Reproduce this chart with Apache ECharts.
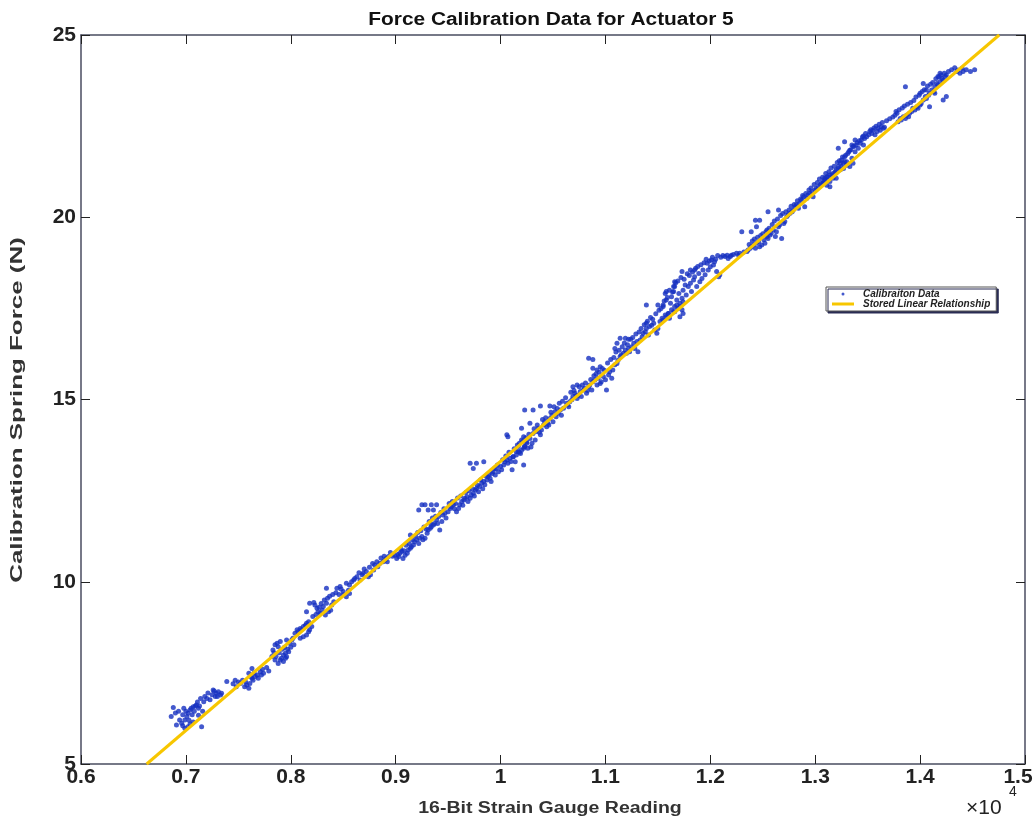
<!DOCTYPE html>
<html>
<head>
<meta charset="utf-8">
<script src="https://cdn.jsdelivr.net/npm/echarts@6/dist/echarts.min.js"></script>
<style>
html,body{margin:0;padding:0;background:#fff;}
#chart{width:1033px;height:825px;}
</style>
</head>
<body>
<div id="chart"></div>
<script>
// ---- data (x in units of 10^4 counts, F in N) ----
var xTicks = [0.6, 0.7, 0.8, 0.9, 1.0, 1.1, 1.2, 1.3, 1.4, 1.5];
var yTicks = [5, 10, 15, 20, 25];
var fitLineX = [0.6626, 1.4754];
var fitLineF = [5, 25];

var calibSeg1 = [[0.688,6.55],[0.686,6.30],[0.698,6.53],[0.691,6.07],[0.694,6.21],[0.696,6.12],[0.699,6.21],[0.701,6.30],[0.702,6.39],[0.704,6.48],[0.705,6.53],[0.707,6.57],[0.709,6.59],[0.710,6.62],[0.712,6.53],[0.713,6.59],[0.715,6.02],[0.712,6.34],[0.699,5.98],[0.702,6.02],[0.723,6.76],[0.726,7.03],[0.728,6.85],[0.729,6.94],[0.731,6.98],[0.733,6.89],[0.734,6.94],[0.720,6.80],[0.717,6.71],[0.739,7.26],[0.747,7.30],[0.748,7.12],[0.752,7.21],[0.756,7.12],[0.758,7.17],[0.760,7.08],[0.761,7.21],[0.763,7.35],[0.764,7.30],[0.766,7.40],[0.768,7.44],[0.771,7.53],[0.772,7.44],[0.774,7.49],[0.763,7.62],[0.760,7.49],[0.783,8.13],[0.785,8.27],[0.787,8.31],[0.788,8.22],[0.785,7.85],[0.788,7.76],[0.790,7.85],[0.791,7.90],[0.793,7.99],[0.795,8.04],[0.796,7.94],[0.798,8.08],[0.793,7.81],[0.795,7.90],[0.790,8.36],[0.796,8.40],[0.799,8.31],[0.803,8.27],[0.804,8.59],[0.806,8.68],[0.807,8.63],[0.809,8.72],[0.810,8.68],[0.812,8.77],[0.814,8.81],[0.815,8.86],[0.817,8.90],[0.809,8.45],[0.812,8.49],[0.815,8.54],[0.817,8.63],[0.818,8.68],[0.820,8.77],[0.815,9.18],[0.818,9.41],[0.822,9.43],[0.823,9.36],[0.825,9.27],[0.826,9.18],[0.828,9.13],[0.830,9.22],[0.831,9.32],[0.833,9.09],[0.834,9.41],[0.836,9.18],[0.838,9.22],[0.839,9.36],[0.841,9.45],[0.834,9.82],
[0.690,6.40],[0.693,6.45],[0.697,6.35],[0.700,6.45],[0.703,6.20],[0.706,6.35],[0.708,6.45],[0.711,6.70],[0.714,6.80],[0.718,6.85],[0.721,6.95],[0.725,6.90],[0.727,7.00],[0.730,6.85],[0.704,6.10],[0.707,6.15],[0.697,6.05],[0.716,6.45],[0.745,7.20],[0.750,7.25],[0.754,7.30],[0.757,7.25],[0.762,7.40],[0.765,7.50],[0.769,7.35],[0.773,7.60],[0.777,7.65],[0.779,7.55],[0.782,7.95],[0.784,8.05],[0.786,7.95],[0.789,8.05],[0.792,8.15],[0.794,8.20],[0.797,8.15],[0.800,8.20],[0.801,8.40],[0.802,8.45],[0.821,9.05],[0.824,9.10],[0.827,9.30],[0.829,9.40],[0.832,9.50],[0.835,9.55],[0.837,9.60],[0.840,9.65],[0.843,9.70],[0.846,9.65],[0.848,9.80]];

var calibSeg2 = [[0.844,9.82],[0.847,9.87],[0.850,9.73],[0.853,9.96],[0.855,9.77],[0.856,9.91],[0.858,10.00],[0.860,10.05],[0.861,10.09],[0.863,10.14],[0.866,10.05],[0.868,10.19],[0.869,10.23],[0.872,10.28],[0.874,10.14],[0.876,10.19],[0.879,10.32],[0.880,10.46],[0.883,10.41],[0.885,10.51],[0.888,10.55],[0.890,10.60],[0.891,10.64],[0.893,10.69],[0.850,9.64],[0.853,9.59],[0.856,9.68],[0.899,10.73],[0.901,10.64],[0.903,10.69],[0.904,10.78],[0.906,10.83],[0.907,10.64],[0.909,10.73],[0.911,10.78],[0.912,10.87],[0.914,10.92],[0.915,10.96],[0.917,11.01],[0.918,11.10],[0.920,11.15],[0.922,11.05],[0.923,11.19],[0.925,11.24],[0.926,11.15],[0.928,11.19],[0.914,11.28],[0.930,11.33],[0.931,11.42],[0.933,11.47],[0.934,11.51],[0.933,11.60],[0.936,11.56],[0.937,11.60],[0.939,11.70],[0.941,11.79],[0.942,11.42],[0.944,11.65],[0.945,11.83],[0.947,11.88],[0.922,11.97],[0.925,12.11],[0.928,12.11],[0.931,11.97],[0.934,12.11],[0.936,11.97],[0.939,12.11],[0.950,11.92],[0.952,12.01],[0.953,12.06],[0.955,12.11],[0.957,12.15],[0.958,11.92],[0.960,12.01],[0.961,12.11],[0.963,12.20],[0.965,12.24],[0.966,12.29],[0.968,12.33],[0.969,12.20],[0.971,12.29],[0.972,12.38],[0.974,12.43],[0.976,12.52],[0.977,12.56],[0.979,12.47],[0.980,12.61],[0.982,12.70],[0.984,12.75],[0.985,12.66],[0.987,12.79],[0.988,12.88],[0.990,12.84],[0.992,12.97],[0.993,13.02],[0.995,12.93],[0.996,13.11],[0.998,13.02],[1.000,13.16],[1.001,13.07],[1.003,13.20],[1.004,13.29],[1.006,13.34],[1.007,13.25],[1.009,13.39],[1.011,13.07],[1.012,13.43],[1.014,13.29],[1.015,13.48],[1.017,13.57],[1.019,13.52],[1.020,13.61],[1.022,13.66],[1.023,13.71],[1.025,13.80],[0.971,13.25],[0.977,13.25],[0.984,13.29],[0.974,13.11],[1.022,13.20],
[0.865,10.25],[0.870,10.35],[0.875,10.40],[0.878,10.50],[0.882,10.55],[0.886,10.65],[0.889,10.70],[0.892,10.55],[0.895,10.80],[0.897,10.70],[0.902,10.75],[0.905,10.90],[0.908,10.85],[0.910,11.00],[0.913,11.05],[0.916,11.15],[0.919,11.25],[0.921,11.35],[0.924,11.40],[0.927,11.50],[0.929,11.45],[0.932,11.65],[0.935,11.75],[0.938,11.80],[0.940,11.60],[0.943,11.90],[0.946,12.00],[0.948,11.75],[0.951,12.15],[0.954,12.20],[0.956,12.00],[0.959,12.30],[0.962,12.35],[0.964,12.10],[0.967,12.45],[0.970,12.50],[0.973,12.55],[0.975,12.35],[0.978,12.65],[0.981,12.80],[0.983,12.55],[0.986,12.90],[0.989,12.95],[0.991,12.75],[0.994,13.10],[0.997,13.20]];

var calibSeg3 = [[1.006,14.03],[1.007,13.98],[1.012,13.43],[1.015,13.57],[1.017,13.71],[1.018,13.80],[1.020,13.89],[1.022,13.98],[1.023,13.71],[1.025,13.84],[1.026,13.66],[1.028,13.93],[1.030,13.80],[1.031,14.07],[1.033,13.89],[1.034,14.12],[1.036,14.21],[1.038,14.03],[1.039,14.16],[1.041,14.30],[1.042,14.39],[1.044,14.25],[1.045,14.35],[1.047,14.48],[1.049,14.57],[1.050,14.39],[1.052,14.67],[1.053,14.53],[1.055,14.62],[1.057,14.71],[1.058,14.57],[1.060,14.76],[1.023,14.71],[1.031,14.71],[1.038,14.82],[1.047,14.82],[1.020,14.21],[1.028,14.35],[1.063,14.90],[1.065,14.80],[1.066,14.94],[1.068,14.99],[1.069,15.08],[1.071,15.17],[1.073,15.03],[1.074,15.12],[1.076,15.22],[1.077,15.08],[1.079,15.26],[1.080,15.31],[1.082,15.17],[1.084,15.35],[1.085,15.40],[1.087,15.26],[1.088,15.49],[1.090,15.54],[1.092,15.40],[1.093,15.58],[1.095,15.44],[1.096,15.49],[1.098,15.63],[1.100,15.54],[1.101,15.26],[1.103,15.67],[1.104,15.76],[1.106,15.58],[1.107,15.81],[1.109,15.95],[1.069,15.35],[1.073,15.40],[1.084,16.13],[1.088,16.10],[1.088,15.86],[1.092,15.81],[1.095,15.90],[1.111,15.99],[1.112,16.08],[1.114,16.18],[1.115,16.22],[1.117,16.27],[1.119,16.36],[1.120,16.27],[1.122,16.40],[1.123,16.31],[1.125,16.45],[1.127,16.54],[1.128,16.40],[1.130,16.59],[1.131,16.31],[1.133,16.63],[1.135,16.72],[1.136,16.82],[1.138,16.86],[1.139,16.95],[1.141,16.77],[1.142,17.00],[1.144,17.04],[1.146,17.09],[1.147,16.91],[1.149,16.82],[1.150,16.95],[1.152,17.14],[1.154,17.23],[1.155,17.18],[1.157,17.32],[1.158,17.27],[1.160,17.36],[1.161,17.23],[1.163,17.46],[1.165,17.41],[1.166,17.55],[1.168,17.59],[1.169,17.50],[1.171,17.64],[1.173,17.46],[1.174,17.68],[1.111,16.54],[1.114,16.68],[1.119,16.68],[1.122,16.65],[1.109,16.40],[1.139,17.09],[1.139,17.59],[1.150,17.59],[1.155,17.59],
[1.002,13.35],[1.005,13.45],[1.008,13.55],[1.010,13.30],[1.013,13.65],[1.016,13.75],[1.018,13.55],[1.021,13.85],[1.024,13.95],[1.027,14.05],[1.029,13.70],[1.032,14.20],[1.035,14.30],[1.037,14.10],[1.040,14.45],[1.043,14.50],[1.046,14.30],[1.048,14.65],[1.051,14.80],[1.054,14.75],[1.056,14.90],[1.059,14.95],[1.062,15.05],[1.064,14.85],[1.067,15.20],[1.070,15.25],[1.072,15.10],[1.075,15.35],[1.078,15.40],[1.081,15.45],[1.083,15.25],[1.086,15.55],[1.089,15.65],[1.091,15.70],[1.094,15.75],[1.097,15.85],[1.099,15.80],[1.102,16.00],[1.105,16.10],[1.108,16.15],[1.110,16.30],[1.113,16.35],[1.116,16.45],[1.118,16.55],[1.121,16.50],[1.124,16.65],[1.126,16.70],[1.129,16.80],[1.132,16.85],[1.134,16.95],[1.137,17.05],[1.140,17.15],[1.143,17.25],[1.145,17.20],[1.148,17.35]];

var calibSeg4 = [[1.155,17.55],[1.157,17.91],[1.158,17.73],[1.160,17.36],[1.162,17.64],[1.163,17.82],[1.165,17.96],[1.166,18.10],[1.168,17.73],[1.170,17.91],[1.171,17.55],[1.173,17.78],[1.174,18.00],[1.176,18.14],[1.177,17.87],[1.179,18.10],[1.181,18.19],[1.182,17.96],[1.184,18.28],[1.185,18.37],[1.187,18.10],[1.189,18.46],[1.190,18.23],[1.192,18.32],[1.193,18.55],[1.195,18.42],[1.197,18.74],[1.198,18.55],[1.200,18.64],[1.201,18.83],[1.203,18.69],[1.204,18.78],[1.206,18.51],[1.208,18.37],[1.209,18.42],[1.171,17.27],[1.174,17.36],[1.166,17.41],[1.173,18.51],[1.181,18.55],[1.185,18.55],[1.166,18.23],[1.158,17.96],[1.165,18.10],[1.214,18.92],[1.216,18.96],[1.217,18.87],[1.219,18.92],[1.220,18.96],[1.225,19.01],[1.228,19.01],[1.230,19.60],[1.235,19.06],[1.236,19.10],[1.238,19.15],[1.239,19.19],[1.241,19.24],[1.243,19.15],[1.244,19.29],[1.246,19.33],[1.247,19.19],[1.249,19.24],[1.251,19.38],[1.252,19.29],[1.254,19.47],[1.255,19.42],[1.257,19.51],[1.258,19.56],[1.260,19.65],[1.262,19.47],[1.263,19.60],[1.265,19.74],[1.266,19.79],[1.268,19.42],[1.270,19.83],[1.271,19.88],[1.273,20.02],[1.239,19.60],[1.244,19.74],[1.243,19.92],[1.247,19.92],[1.255,20.15],[1.265,20.20],[1.254,19.65],[1.274,20.06],[1.276,20.11],[1.278,20.15],[1.279,20.20],[1.281,20.29],[1.282,20.34],[1.284,20.25],[1.285,20.38],[1.287,20.47],[1.289,20.56],[1.290,20.29],[1.292,20.52],[1.293,20.61],[1.295,20.66],[1.297,20.70],[1.298,20.56],[1.300,20.75],[1.301,20.79],[1.303,20.84],[1.305,20.89],[1.306,20.93],[1.308,20.98],[1.309,21.07],[1.311,21.11],[1.312,21.02],[1.314,21.16],[1.316,21.11],[1.317,21.20],[1.319,21.25],[1.320,21.07],[1.322,21.34],[1.324,21.30],[1.325,21.39],[1.327,21.48],[1.328,21.53],[1.330,21.43],[1.333,21.39],[1.336,21.48],
[1.151,17.45],[1.153,17.50],[1.156,17.70],[1.159,17.80],[1.161,18.00],[1.164,17.95],[1.167,18.20],[1.169,18.25],[1.172,18.35],[1.175,18.30],[1.178,18.45],[1.180,18.40],[1.183,18.50],[1.186,18.60],[1.188,18.65],[1.191,18.70],[1.194,18.75],[1.196,18.85],[1.199,18.80],[1.202,18.90],[1.205,18.85],[1.207,18.95],[1.210,18.90],[1.212,18.95],[1.222,18.98],[1.227,18.95],[1.232,19.05],[1.237,19.25],[1.240,19.35],[1.242,19.40],[1.245,19.45],[1.248,19.50],[1.250,19.55],[1.253,19.60],[1.256,19.70],[1.259,19.80],[1.261,19.90],[1.264,19.95],[1.267,20.05],[1.269,20.10],[1.272,20.15],[1.275,20.20],[1.277,20.30],[1.280,20.35],[1.283,20.45],[1.286,20.50],[1.288,20.60],[1.291,20.65],[1.294,20.75],[1.296,20.80],[1.299,20.90]];

var calibSeg5 = [[1.308,20.93],[1.309,21.02],[1.311,20.88],[1.312,21.11],[1.314,20.98],[1.316,21.16],[1.317,21.07],[1.319,21.20],[1.314,20.84],[1.320,21.30],[1.322,21.39],[1.324,21.48],[1.325,21.57],[1.327,21.34],[1.328,21.66],[1.330,21.52],[1.331,21.75],[1.333,21.84],[1.335,21.62],[1.336,21.94],[1.338,21.80],[1.339,21.98],[1.341,21.89],[1.343,22.03],[1.344,22.12],[1.346,21.98],[1.347,22.16],[1.349,22.21],[1.351,22.26],[1.352,22.35],[1.354,22.30],[1.355,22.39],[1.357,22.26],[1.359,22.35],[1.360,22.44],[1.362,22.39],[1.363,22.48],[1.365,22.44],[1.366,22.47],[1.322,21.89],[1.328,22.07],[1.335,21.98],[1.346,22.23],[1.338,22.12],[1.376,22.80],[1.378,22.85],[1.379,22.62],[1.381,22.71],[1.382,22.67],[1.384,22.76],[1.386,22.71],[1.387,22.80],[1.389,22.76],[1.390,22.85],[1.392,22.90],[1.393,22.99],[1.395,22.94],[1.397,23.03],[1.398,22.99],[1.400,23.08],[1.401,23.12],[1.403,23.22],[1.405,23.31],[1.406,23.26],[1.408,23.35],[1.409,23.40],[1.411,23.49],[1.413,23.44],[1.414,23.58],[1.416,23.67],[1.417,23.63],[1.419,23.72],[1.421,23.81],[1.422,23.76],[1.424,23.86],[1.425,23.90],[1.417,23.86],[1.419,23.95],[1.386,23.58],[1.403,23.67],[1.406,23.49],[1.400,23.40],[1.409,23.03],[1.425,23.31],[1.422,23.22],[1.414,23.40],[1.435,24.00],[1.436,24.04],[1.438,23.95],[1.440,24.09],[1.441,24.00],[1.448,24.00],
[1.302,20.95],[1.304,21.05],[1.307,21.10],[1.310,21.20],[1.313,21.25],[1.315,21.35],[1.318,21.40],[1.321,21.50],[1.323,21.55],[1.326,21.65],[1.329,21.70],[1.332,21.80],[1.334,21.85],[1.337,21.95],[1.340,22.05],[1.342,22.10],[1.345,22.20],[1.348,22.30],[1.353,22.40],[1.356,22.45],[1.358,22.50],[1.361,22.55],[1.364,22.60],[1.368,22.65],[1.371,22.70],[1.374,22.75],[1.377,22.90],[1.380,22.95],[1.383,23.00],[1.385,23.05],[1.388,23.10],[1.391,23.15],[1.394,23.20],[1.396,23.30],[1.399,23.35],[1.402,23.45],[1.404,23.50],[1.407,23.60],[1.410,23.65],[1.412,23.70],[1.415,23.80],[1.418,23.85],[1.420,23.90],[1.423,23.95],[1.427,24.00],[1.430,24.05],[1.433,24.10],[1.444,24.05],[1.452,24.05]];

var calibData = calibSeg1.concat(calibSeg2, calibSeg3, calibSeg4, calibSeg5);
var fitData = fitLineX.map(function (x, i) { return [x, fitLineF[i]]; });

var chart = echarts.init(document.getElementById('chart'));
var FONT = 'Liberation Sans, Arial, sans-serif';
var axisColor = '#4a4d60';
var lineYellow = '#f7c600';

function mkX(pos, showLabel) {
  return {
    type: 'value', position: pos, min: xTicks[0], max: xTicks[xTicks.length - 1], interval: 0.1,
    axisLine: { show: true, onZero: false, lineStyle: { color: axisColor, width: 1.5 } },
    axisTick: { show: true, inside: true, length: 9, lineStyle: { color: '#222', width: 1 } },
    axisLabel: { show: showLabel, color: '#222', fontSize: 21, fontFamily: FONT, fontWeight: 'bold', margin: 3,
      formatter: function (v) {
        var s = String(Math.round(v * 10) / 10);
        return v >= xTicks[xTicks.length - 1] - 1e-9 ? '{last|' + s + '}' : s;
      },
      rich: { last: { fontSize: 21, fontFamily: FONT, fontWeight: 'bold', color: '#222', padding: [0, 14, 0, 0] } } },
    splitLine: { show: false }
  };
}
function mkY(pos, showLabel) {
  return {
    type: 'value', position: pos, min: yTicks[0], max: yTicks[yTicks.length - 1], interval: 5,
    axisLine: { show: true, onZero: false, lineStyle: { color: axisColor, width: 1.5 } },
    axisTick: { show: true, inside: true, length: 9, lineStyle: { color: '#222', width: 1 } },
    axisLabel: { show: showLabel, color: '#222', fontSize: 21, fontFamily: FONT, fontWeight: 'bold', margin: 5 },
    splitLine: { show: false }
  };
}

chart.setOption({
  backgroundColor: '#ffffff',
  animation: false,
  grid: { left: 81, right: 8, top: 35, bottom: 61, containLabel: false, outerBoundsMode: 'none' },
  xAxis: [mkX('bottom', true), mkX('top', false)],
  yAxis: [mkY('left', true), mkY('right', false)],
  legend: {
    orient: 'vertical', left: 826, top: 287,
    backgroundColor: '#fff', borderColor: '#555', borderWidth: 1,
    shadowColor: '#2a2d55', shadowOffsetX: 2, shadowOffsetY: 2, shadowBlur: 0,
    padding: [2, 6, 2, 6], itemGap: 0, itemWidth: 22, itemHeight: 3,
    textStyle: { fontSize: 10, fontWeight: 'bold', fontStyle: 'italic', fontFamily: FONT, color: '#222', padding: [0, 0, 0, 4] },
    data: [{ name: 'Calibraiton Data', icon: 'circle' }, { name: 'Stored Linear Relationship', icon: 'rect', itemStyle: { color: lineYellow } }]
  },
  graphic: [
    { type: 'text', x: 551, y: 11, scaleX: 1.16, style: { text: 'Force Calibration Data for Actuator 5', textAlign: 'center', fill: '#111', font: 'bold 18px ' + FONT } },
    { type: 'text', x: 550, y: 801, scaleX: 1.22, style: { text: '16-Bit Strain Gauge Reading', textAlign: 'center', fill: '#333', font: 'bold 16px ' + FONT } },
    { type: 'text', x: 10, y: 410, rotation: Math.PI / 2, scaleX: 1.62, style: { text: 'Calibration Spring Force (N)', textAlign: 'center', fill: '#333', font: 'bold 16px ' + FONT } },
    { type: 'text', x: 966, y: 798, style: { text: '×10', fill: '#222', font: '21px ' + FONT } },
    { type: 'text', x: 1009, y: 785, style: { text: '4', fill: '#222', font: '14px ' + FONT } }
  ],
  series: [
    {
      name: 'Calibraiton Data', type: 'scatter', xAxisIndex: 0, yAxisIndex: 0,
      data: calibData, symbol: 'circle', symbolSize: 5,
      itemStyle: { color: '#1530c0' }, z: 2
    },
    {
      name: 'Stored Linear Relationship', type: 'line', xAxisIndex: 0, yAxisIndex: 0,
      data: fitData, symbol: 'none', itemStyle: { color: lineYellow }, lineStyle: { color: lineYellow, width: 3 }, z: 3
    }
  ]
});
</script>
</body>
</html>
